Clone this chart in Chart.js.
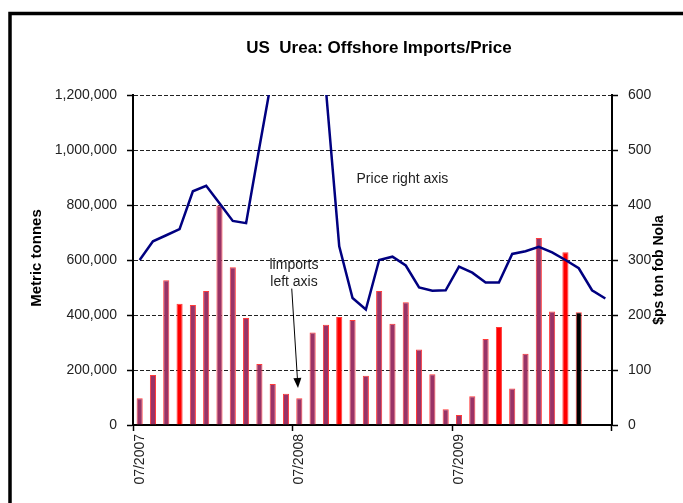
<!DOCTYPE html>
<html>
<head>
<meta charset="utf-8">
<script src="https://cdn.jsdelivr.net/npm/chart.js@4/dist/chart.umd.min.js"></script>
<style>
  html, body { margin: 0; padding: 0; background: #fff; }
  #wrap { width: 683px; height: 503px; }
</style>
</head>
<body>
<div id="wrap"><canvas id="urea_Chart" width="683" height="503"></canvas></div>
<script>
// dados do gráfico
const meses = [
  '07/2007','08/2007','09/2007','10/2007','11/2007','12/2007',
  '01/2008','02/2008','03/2008','04/2008','05/2008','06/2008',
  '07/2008','08/2008','09/2008','10/2008','11/2008','12/2008',
  '01/2009','02/2009','03/2009','04/2009','05/2009','06/2009',
  '07/2009','08/2009','09/2009','10/2009','11/2009','12/2009',
  '01/2010','02/2010','03/2010','04/2010','05/2010','06/2010'
];

// importações (toneladas métricas), eixo esquerdo
const importacoes = [
  97000, 182000, 526000, 441000, 436000, 487000,
  798000, 574000, 389000, 222000, 149000, 114000,
  97000, 336000, 365000, 393000, 382000, 179000,
  487000, 368000, 446000, 275000, 185000, 57000,
  36000, 105000, 313000, 356000, 133000, 259000,
  680000, 413000, 628000, 410000, null, null
];

// preço ($ por short ton fob Nola), eixo direito
const precos = [
  300, 334, 345, 356, 425, 435,
  403, 371, 367, 505, 640, 700,
  760, 720, 610, 325, 231, 210,
  300, 306, 290, 250, 244, 245,
  288, 277, 259, 259, 311, 316,
  324, 314, 300, 285, 245, 230
];

const ticksEsquerda = [0, 200000, 400000, 600000, 800000, 1000000, 1200000];
const ticksDireita = [0, 100, 200, 300, 400, 500, 600];

// barras destacadas
const barrasVermelhas = [3, 15, 27, 32];
const barrasPretas = [33];

const fonte = "'Liberation Sans', Arial, sans-serif";

function corBarra(ctx) {
  if (barrasPretas.includes(ctx.dataIndex)) return '#000000';
  if (barrasVermelhas.includes(ctx.dataIndex)) return '#ff0000';
  return '#993366';
}

// textos, seta e moldura
const decoracao = {
  id: 'decoracao',
  beforeDraw(chart) {
    const c = chart.ctx;
    c.save();
    c.fillStyle = '#fff';
    c.fillRect(0, 0, chart.width, chart.height);
    c.strokeStyle = '#000';
    c.lineWidth = 3.5;
    c.lineJoin = 'miter';
    c.beginPath();
    c.moveTo(10, 520);
    c.lineTo(10, 13.5);
    c.lineTo(720, 13.5);
    c.stroke();
    c.restore();
  },
  afterDraw(chart) {
    const c = chart.ctx;
    const x = chart.scales.x, y = chart.scales.y, y1 = chart.scales.y1;
    c.save();
    c.fillStyle = '#000';
    c.textAlign = 'center';
    c.textBaseline = 'middle';

    c.font = 'bold 17px ' + fonte;
    c.fillText('US  Urea: Offshore Imports/Price', 379, 48);

    c.save();
    c.translate(37, 258);
    c.rotate(-Math.PI / 2);
    c.font = 'bold 15px ' + fonte;
    c.fillText('Metric tonnes', 0, 0);
    c.restore();

    c.save();
    c.translate(659, 270);
    c.rotate(-Math.PI / 2);
    c.font = 'bold 14px ' + fonte;
    c.fillText('$ps ton fob Nola', 0, 0);
    c.restore();

    c.font = '14px ' + fonte;
    c.fillStyle = '#222';
    c.fillText('Price right axis', x.getPixelForValue(19.75), y1.getPixelForValue(447));
    c.fillText('limports', x.getPixelForValue(11.6), y.getPixelForValue(582000));
    c.fillText('left axis', x.getPixelForValue(11.6), y.getPixelForValue(520000));

    // seta
    const x0 = x.getPixelForValue(11.43), yA = y.getPixelForValue(496000);
    const x2 = x.getPixelForValue(11.9), yB = y.getPixelForValue(135000);
    const ang = Math.atan2(yB - yA, x2 - x0);
    c.strokeStyle = '#000';
    c.lineWidth = 1;
    c.beginPath();
    c.moveTo(x0, yA);
    c.lineTo(x2 - 8 * Math.cos(ang), yB - 8 * Math.sin(ang));
    c.stroke();
    c.fillStyle = '#000';
    c.beginPath();
    c.moveTo(x2, yB);
    c.lineTo(x2 - 10 * Math.cos(ang) + 4 * Math.sin(ang), yB - 10 * Math.sin(ang) - 4 * Math.cos(ang));
    c.lineTo(x2 - 10 * Math.cos(ang) - 4 * Math.sin(ang), yB - 10 * Math.sin(ang) + 4 * Math.cos(ang));
    c.closePath();
    c.fill();
    c.restore();
  }
};

const data = {
  labels: meses,
  datasets: [
    {
      type: 'line',
      label: 'Price',
      data: precos,
      yAxisID: 'y1',
      borderColor: '#000080',
      borderWidth: 2.5,
      pointRadius: 0,
      tension: 0,
      fill: false,
      order: 0
    },
    {
      type: 'bar',
      label: 'Imports',
      data: importacoes,
      yAxisID: 'y',
      backgroundColor: corBarra,
      borderColor: '#ff3a3a',
      borderWidth: 1,
      barPercentage: 0.46,
      categoryPercentage: 1,
      order: 1
    }
  ]
};

const config = {
  type: 'bar',
  data: data,
  options: {
    responsive: false,
    animation: false,
    layout: { padding: { top: 95, left: 0, right: 0, bottom: 0 } },
    plugins: {
      legend: { display: false },
      title: { display: false },
      tooltip: { enabled: false }
    },
    scales: {
      x: {
        type: 'category',
        offset: true,
        afterFit(s) { s.height = 78; },
        grid: {
          offset: true,
          drawOnChartArea: false,
          drawTicks: true,
          tickLength: 6,
          tickWidth: 1.5,
          tickColor: (c) => (c.index === undefined || c.index % 12 === 0) ? '#000' : 'rgba(0,0,0,0)'
        },
        border: { display: true, color: '#000', width: 2 },
        ticks: {
          autoSkip: false,
          maxRotation: 90,
          minRotation: 90,
          padding: 3,
          color: '#222',
          font: { size: 14, family: fonte },
          callback: (v, i) => i % 12 === 0 ? meses[i] : ''
        }
      },
      y: {
        position: 'left',
        min: 0,
        max: 1200000,
        afterFit(s) { s.width = 133; },
        afterBuildTicks(s) { s.ticks = ticksEsquerda.map(v => ({ value: v })); },
        grid: {
          color: '#222',
          lineWidth: 1,
          tickLength: 6,
          tickWidth: 1.5,
          tickColor: '#000',
          tickBorderDash: []
        },
        border: { display: true, color: '#000', width: 2, dash: [4, 2] },
        ticks: {
          padding: 10,
          color: '#222',
          font: { size: 14, family: fonte },
          callback: (v) => v.toLocaleString('en-US')
        }
      },
      y1: {
        position: 'right',
        min: 0,
        max: 600,
        afterFit(s) { s.width = 71; },
        afterBuildTicks(s) { s.ticks = ticksDireita.map(v => ({ value: v })); },
        grid: {
          drawOnChartArea: false,
          tickLength: 6,
          tickWidth: 1.5,
          tickColor: '#000'
        },
        border: { display: true, color: '#000', width: 2 },
        ticks: {
          padding: 10,
          color: '#222',
          font: { size: 14, family: fonte }
        }
      }
    }
  },
  plugins: [decoracao]
};

// criando o gráfico
const urea_Chart = new Chart(document.getElementById('urea_Chart'), config);
</script>
</body>
</html>
